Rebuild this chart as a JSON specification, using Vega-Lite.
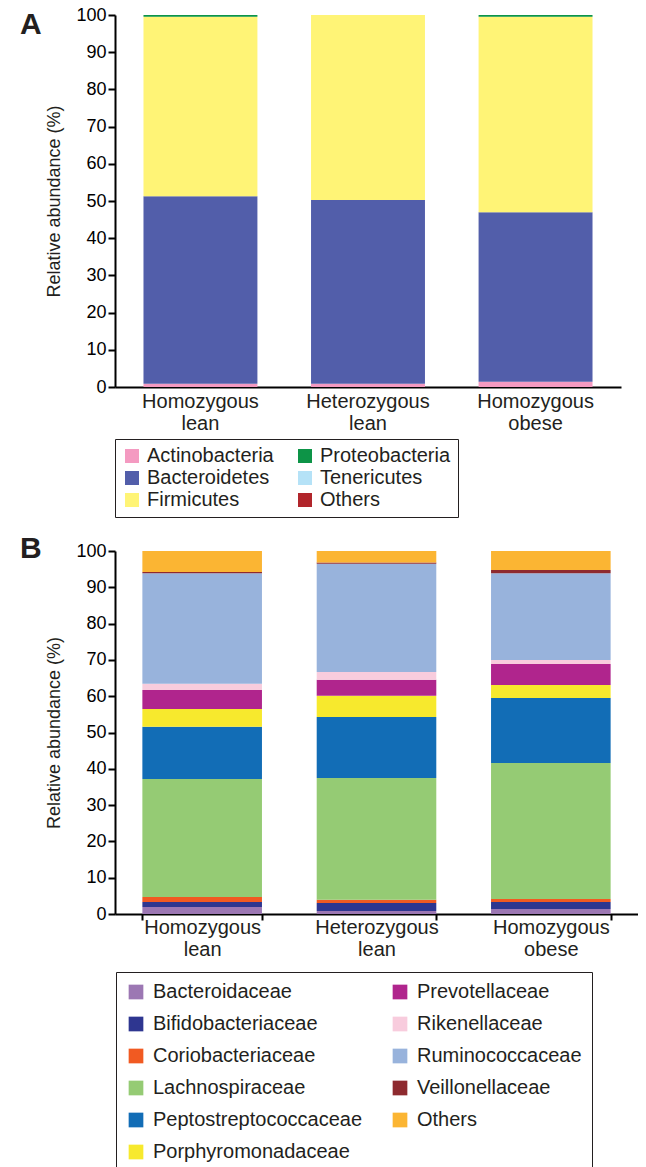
{
  "$schema": "https://vega.github.io/schema/vega-lite/v6.json",
  "padding": {"left": 20, "top": 6, "right": 0, "bottom": 0},
  "autosize": {"type": "pad"},
  "spacing": 16,
  "config": {
    "font": "Liberation Sans",
    "view": {"stroke": null},
    "axis": {
      "domainColor": "#000000", "domainWidth": 2, "tickColor": "#000000", "tickWidth": 2, "tickSize": 7,
      "labelColor": "#000000", "labelFontSize": 18, "titleFontSize": 18, "titleFontWeight": "normal",
      "titleColor": "#231F20", "grid": false, "labelPadding": 2
    },
    "title": {"fontSize": 30, "fontWeight": "bold", "color": "#231F20", "anchor": "start", "frame": "group", "baseline": "alphabetic", "offset": 0}
  },
  "resolve": {"scale": {"color": "independent", "x": "independent", "y": "independent"}, "legend": {"color": "independent"}},
  "vconcat": [
    {
      "width": 506,
      "height": 372,
      "title": {"text": "A", "dx": -95, "dy": 38},
      "data": {"values": [
        {"group": "Homozygous lean", "phylum": "Actinobacteria", "pct": 0.9, "k": 1},
        {"group": "Homozygous lean", "phylum": "Bacteroidetes", "pct": 50.4, "k": 2},
        {"group": "Homozygous lean", "phylum": "Firmicutes", "pct": 48.2, "k": 3},
        {"group": "Homozygous lean", "phylum": "Proteobacteria", "pct": 0.5, "k": 4},
        {"group": "Homozygous lean", "phylum": "Tenericutes", "pct": 0, "k": 5},
        {"group": "Homozygous lean", "phylum": "Others", "pct": 0, "k": 6},
        {"group": "Heterozygous lean", "phylum": "Actinobacteria", "pct": 0.9, "k": 1},
        {"group": "Heterozygous lean", "phylum": "Bacteroidetes", "pct": 49.4, "k": 2},
        {"group": "Heterozygous lean", "phylum": "Firmicutes", "pct": 49.7, "k": 3},
        {"group": "Heterozygous lean", "phylum": "Proteobacteria", "pct": 0, "k": 4},
        {"group": "Heterozygous lean", "phylum": "Tenericutes", "pct": 0, "k": 5},
        {"group": "Heterozygous lean", "phylum": "Others", "pct": 0, "k": 6},
        {"group": "Homozygous obese", "phylum": "Actinobacteria", "pct": 1.4, "k": 1},
        {"group": "Homozygous obese", "phylum": "Bacteroidetes", "pct": 45.6, "k": 2},
        {"group": "Homozygous obese", "phylum": "Firmicutes", "pct": 52.5, "k": 3},
        {"group": "Homozygous obese", "phylum": "Proteobacteria", "pct": 0.5, "k": 4},
        {"group": "Homozygous obese", "phylum": "Tenericutes", "pct": 0, "k": 5},
        {"group": "Homozygous obese", "phylum": "Others", "pct": 0, "k": 6}
      ]},
      "mark": {"type": "bar"},
      "encoding": {
        "x": {
          "field": "group", "type": "nominal",
          "sort": ["Homozygous lean", "Heterozygous lean", "Homozygous obese"],
          "scale": {"paddingInner": 0.32, "paddingOuter": 0.17},
          "axis": {"title": null, "labelAngle": 0, "labelExpr": "split(datum.label, ' ')", "ticks": false, "labelLineHeight": 22, "labelPadding": 4, "labelFontSize": 20, "labelColor": "#231F20"}
        },
        "y": {
          "field": "pct", "type": "quantitative", "stack": "zero",
          "scale": {"domain": [0, 100], "nice": false},
          "axis": {"title": "Relative abundance (%)", "values": [0, 10, 20, 30, 40, 50, 60, 70, 80, 90, 100], "titlePadding": 12}
        },
        "color": {
          "field": "phylum", "type": "nominal",
          "scale": {
            "domain": ["Actinobacteria", "Bacteroidetes", "Firmicutes", "Proteobacteria", "Tenericutes", "Others"],
            "range": ["#F49AC1", "#525EAA", "#FFF476", "#0D9447", "#B5E2F7", "#B1252B"]
          },
          "legend": {
            "orient": "none", "legendX": 0, "legendY": 424, "columns": 2, "title": null,
            "symbolType": "square", "symbolSize": 196, "symbolStrokeWidth": 0,
            "labelFontSize": 20, "labelColor": "#231F20", "labelOffset": 5, "labelLimit": 400,
            "rowPadding": 2, "columnPadding": 21, "padding": 7,
            "strokeColor": "#231F20", "fillColor": "#FFFFFF"
          }
        },
        "order": {"field": "k", "type": "quantitative"}
      }
    },
    {
      "width": 523,
      "height": 363,
      "title": {"text": "B", "dx": -95, "dy": 26},
      "data": {"values": [
        {"group": "Homozygous lean", "family": "Bacteroidaceae", "pct": 1.9, "k": 1},
        {"group": "Homozygous lean", "family": "Bifidobacteriaceae", "pct": 1.4, "k": 2},
        {"group": "Homozygous lean", "family": "Coriobacteriaceae", "pct": 1.4, "k": 3},
        {"group": "Homozygous lean", "family": "Lachnospiraceae", "pct": 32.5, "k": 4},
        {"group": "Homozygous lean", "family": "Peptostreptococcaceae", "pct": 14.4, "k": 5},
        {"group": "Homozygous lean", "family": "Porphyromonadaceae", "pct": 4.9, "k": 6},
        {"group": "Homozygous lean", "family": "Prevotellaceae", "pct": 5.2, "k": 7},
        {"group": "Homozygous lean", "family": "Rikenellaceae", "pct": 1.7, "k": 8},
        {"group": "Homozygous lean", "family": "Ruminococcaceae", "pct": 30.5, "k": 9},
        {"group": "Homozygous lean", "family": "Veillonellaceae", "pct": 0.3, "k": 10},
        {"group": "Homozygous lean", "family": "Others", "pct": 5.8, "k": 11},
        {"group": "Heterozygous lean", "family": "Bacteroidaceae", "pct": 0.8, "k": 1},
        {"group": "Heterozygous lean", "family": "Bifidobacteriaceae", "pct": 2.2, "k": 2},
        {"group": "Heterozygous lean", "family": "Coriobacteriaceae", "pct": 0.9, "k": 3},
        {"group": "Heterozygous lean", "family": "Lachnospiraceae", "pct": 33.6, "k": 4},
        {"group": "Heterozygous lean", "family": "Peptostreptococcaceae", "pct": 16.8, "k": 5},
        {"group": "Heterozygous lean", "family": "Porphyromonadaceae", "pct": 5.8, "k": 6},
        {"group": "Heterozygous lean", "family": "Prevotellaceae", "pct": 4.4, "k": 7},
        {"group": "Heterozygous lean", "family": "Rikenellaceae", "pct": 2.2, "k": 8},
        {"group": "Heterozygous lean", "family": "Ruminococcaceae", "pct": 29.8, "k": 9},
        {"group": "Heterozygous lean", "family": "Veillonellaceae", "pct": 0.3, "k": 10},
        {"group": "Heterozygous lean", "family": "Others", "pct": 3.2, "k": 11},
        {"group": "Homozygous obese", "family": "Bacteroidaceae", "pct": 1.4, "k": 1},
        {"group": "Homozygous obese", "family": "Bifidobacteriaceae", "pct": 1.9, "k": 2},
        {"group": "Homozygous obese", "family": "Coriobacteriaceae", "pct": 0.8, "k": 3},
        {"group": "Homozygous obese", "family": "Lachnospiraceae", "pct": 37.5, "k": 4},
        {"group": "Homozygous obese", "family": "Peptostreptococcaceae", "pct": 17.9, "k": 5},
        {"group": "Homozygous obese", "family": "Porphyromonadaceae", "pct": 3.6, "k": 6},
        {"group": "Homozygous obese", "family": "Prevotellaceae", "pct": 5.8, "k": 7},
        {"group": "Homozygous obese", "family": "Rikenellaceae", "pct": 1.1, "k": 8},
        {"group": "Homozygous obese", "family": "Ruminococcaceae", "pct": 23.9, "k": 9},
        {"group": "Homozygous obese", "family": "Veillonellaceae", "pct": 0.9, "k": 10},
        {"group": "Homozygous obese", "family": "Others", "pct": 5.2, "k": 11}
      ]},
      "mark": {"type": "bar"},
      "encoding": {
        "x": {
          "field": "group", "type": "nominal",
          "sort": ["Homozygous lean", "Heterozygous lean", "Homozygous obese"],
          "scale": {"paddingInner": 0.314, "paddingOuter": 0.157},
          "axis": {"title": null, "labelAngle": 0, "labelExpr": "split(datum.label, ' ')", "tickBand": "extent", "tickSize": 6, "labelLineHeight": 22, "labelPadding": -3, "labelFontSize": 20, "labelColor": "#231F20"}
        },
        "y": {
          "field": "pct", "type": "quantitative", "stack": "zero",
          "scale": {"domain": [0, 100], "nice": false},
          "axis": {"title": "Relative abundance (%)", "values": [0, 10, 20, 30, 40, 50, 60, 70, 80, 90, 100], "titlePadding": 12}
        },
        "color": {
          "field": "family", "type": "nominal",
          "scale": {
            "domain": ["Bacteroidaceae", "Bifidobacteriaceae", "Coriobacteriaceae", "Lachnospiraceae", "Peptostreptococcaceae", "Porphyromonadaceae", "Prevotellaceae", "Rikenellaceae", "Ruminococcaceae", "Veillonellaceae", "Others"],
            "range": ["#9C77B3", "#2E3690", "#F15A22", "#95CB74", "#126DB6", "#F7E92D", "#B0258D", "#F8CCDD", "#98B3DC", "#8E2A2F", "#FBB533"]
          },
          "legend": {
            "orient": "none", "legendX": 1, "legendY": 421, "columns": 2, "title": null,
            "symbolType": "square", "symbolSize": 216, "symbolStrokeWidth": 0,
            "labelFontSize": 20, "labelColor": "#231F20", "labelOffset": 7, "labelLimit": 400,
            "rowPadding": 12, "columnPadding": 27, "padding": 10,
            "strokeColor": "#231F20", "fillColor": "#FFFFFF"
          }
        },
        "order": {"field": "k", "type": "quantitative"}
      }
    }
  ]
}
